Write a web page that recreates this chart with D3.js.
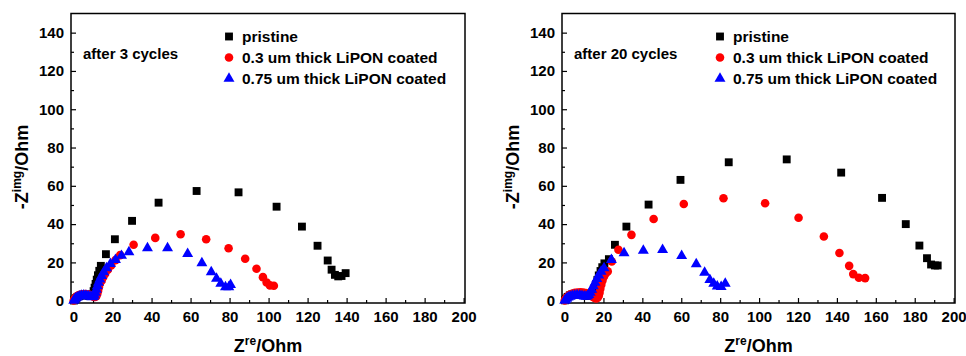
<!DOCTYPE html>
<html>
<head>
<meta charset="utf-8">
<script src="https://cdn.jsdelivr.net/npm/d3@7"></script>
<style>
  body { margin: 0; background: #fff; }
  svg { display: block; font-family: "Liberation Sans", Arial, sans-serif; font-weight: bold; }
</style>
</head>
<body>
<div id="chart"></div>
<script>
// ==== DATA (Z_re, -Z_img in Ohm) ====
const seriesNames = ['pristine', '0.3 um thick LiPON coated', '0.75 um thick LiPON coated']
const panelTitles = ['after 3 cycles', 'after 20 cycles']
const xTicks = [0, 20, 40, 60, 80, 100, 120, 140, 160, 180, 200]
const yTicks = [0, 20, 40, 60, 80, 100, 120, 140]

const pristine3 = [[0.2,0.1],[0.6,0.6],[1.2,1.3],[2,2],[3,2.5],[4.2,2.8],[5.5,2.9],[6.8,2.8],[8,2.5],[9,2.5],[9.8,3.5],[10.3,5],[10.8,6.8],[11.3,8.8],[11.9,11],[12.5,13.3],[13.2,15.6],[14,18.2],[16.6,24.3],[21.2,32.1],[30,41.7],[43.6,51.2],[63.1,57.3],[84.6,56.6],[104.1,49.1],[117.1,38.7],[125.1,28.7],[130.3,21],[132.3,16.2],[134,13.5],[135.7,12.7],[137.4,12.9],[139.5,14.4]]
const coated03_3 = [[0.1,0.1],[0.4,0.8],[0.9,1.5],[1.6,2.2],[2.5,2.8],[3.6,3.2],[4.8,3.4],[6,3.5],[7.2,3.4],[8.3,3.1],[9.3,2.6],[10.2,2.1],[11,1.9],[11.7,2.4],[12.2,3.6],[12.6,5.2],[13,7],[13.5,8.8],[14.4,10.4],[15.2,12.3],[16.2,14.1],[17.6,16.2],[19.3,18.4],[21.5,21.2],[23.9,23.8],[30.8,29.2],[41.9,32.8],[54.9,34.7],[68,32.1],[79.5,27.4],[88,21.9],[93.8,16.7],[97.1,12.3],[99,9.5],[100.7,8],[102.7,7.8]]
const coated075_3 = [[0.1,0],[0.5,0.6],[1.1,1.2],[1.9,1.8],[2.9,2.3],[4,2.7],[5.2,2.8],[6.4,2.7],[7.5,2.4],[8.5,2.1],[9.4,1.9],[10.1,2],[10.7,2.8],[11.2,4.2],[11.7,5.8],[12.2,7.6],[12.8,9.4],[13.5,11.2],[14.4,13],[15.5,15],[16.9,17],[18.9,19.2],[21.5,21.4],[24.6,23.5],[28.4,25.4],[37.9,27.5],[48.2,27.5],[58.5,24.5],[65.8,19.6],[70.6,14.9],[73.3,11.5],[75.5,8.9],[77.9,7.1],[79.6,7.1],[80.5,8.3]]

const pristine20 = [[0.2,0.2],[0.8,1.1],[1.6,2],[2.7,2.8],[4,3.3],[5.5,3.6],[7,3.6],[8.5,3.4],[10,3],[11.4,2.6],[12.7,2.5],[13.8,3],[14.8,4.4],[15.6,6.4],[16.3,8.6],[16.9,10.9],[17.6,13.2],[18.5,15.5],[19.4,17.5],[20.5,19.5],[22.8,21.7],[25.9,29.2],[31.8,38.7],[43.2,50.2],[59.6,63.1],[84.4,72.3],[114.2,73.8],[142.2,66.9],[163.2,53.7],[175.4,40],[182.4,28.8],[186.3,22.2],[188.4,18.9],[190.4,18.4],[191.8,18.4]]
const coated03_20 = [[0.1,0.1],[0.5,0.9],[1.1,1.7],[1.9,2.5],[2.9,3.2],[4.1,3.7],[5.4,4.1],[6.8,4.3],[8.2,4.4],[9.6,4.3],[11,4],[12.3,3.5],[13.5,2.8],[14.6,2],[15.5,1.4],[16.3,1.2],[17,1.5],[17.6,2.6],[18,4.2],[18.4,6.2],[18.9,8.3],[19.5,10.5],[20.3,12.6],[21.2,14.3],[22.2,15.3],[24.3,20.5],[27.7,26.6],[34.4,34.4],[45.8,42.7],[61.3,50.5],[81.7,53.5],[103.1,50.9],[120.3,43.3],[133.3,33.5],[141.3,24.9],[146.3,18.2],[148.4,13.9],[151.3,12],[154.5,11.8]]
const coated075_20 = [[0.1,0],[0.5,0.5],[1.1,1.1],[1.9,1.7],[2.9,2.2],[4,2.6],[5.2,2.8],[6.5,2.9],[7.8,2.8],[9,2.6],[10.1,2.3],[11,2.2],[11.8,2.4],[12.5,3],[13.2,4.3],[14,5.8],[14.8,7.6],[15.7,9.5],[16.6,11.4],[17.6,13.3],[18.8,15.2],[20.3,17],[24.1,21.4],[30.6,24.9],[40.5,26.2],[50.4,26.6],[60.2,23.4],[67.7,19.1],[72,14.7],[74.7,10.9],[76.7,8.9],[78.5,7.5],[80.5,7.3],[82.6,8.9]]

const panels = [
  {title: panelTitles[0], series: [pristine3, coated03_3, coated075_3]},
  {title: panelTitles[1], series: [pristine20, coated03_20, coated075_20]}
]

// ==== STRUCTURE ====
const width = 966, height = 356
const colors = ['#000000', '#ff0000', '#0000ff']
const symbols = [
  d3.symbol().type(d3.symbolSquare).size(62),
  d3.symbol().type(d3.symbolCircle).size(58),
  d3.symbol().type(d3.symbolTriangle).size(52)
]

const svg = d3.select('#chart').append('svg')
  .attr('width', width)
  .attr('height', height)

const frames = [
  {left: 71, right: 465, top: 13.5, bottom: 303},
  {left: 562, right: 955, top: 13.5, bottom: 303}
]

const drawPanel = (panel, f) => {

  const x = d3.scaleLinear().domain([-1.3, 200.7]).range([f.left, f.right])
  const y = d3.scaleLinear().domain([-1.2, 150]).range([f.bottom, f.top])

  const g = svg.append('g')

  // minor ticks
  g.append('g')
  .attr('transform', `translate(0,${f.bottom})`)
  .call(d3.axisBottom(x).tickValues(d3.range(10, 200, 20)).tickSize(-3).tickFormat(''))

  g.append('g')
  .attr('transform', `translate(${f.left},0)`)
  .call(d3.axisLeft(y).tickValues(d3.range(10, 150, 20)).tickSize(-3).tickFormat(''))

  // major ticks
  g.append('g')
  .attr('transform', `translate(0,${f.bottom})`)
  .call(d3.axisBottom(x).tickValues(xTicks).tickSize(-5).tickPadding(8))

  g.append('g')
  .attr('transform', `translate(${f.left},0)`)
  .call(d3.axisLeft(y).tickValues(yTicks).tickSize(-5).tickPadding(7))

  g.selectAll('.domain').remove()
  g.selectAll('.tick line').attr('stroke', '#000').attr('stroke-width', 1.2)
  g.selectAll('.tick text')
  .attr('fill', '#000')
  .style('font-size', '15px')
  .style('font-family', '"Liberation Sans", Arial, sans-serif')
  .style('font-weight', 'bold')

  // frame
  g.append('rect')
  .attr('x', f.left)
  .attr('y', f.top)
  .attr('width', f.right - f.left)
  .attr('height', f.bottom - f.top)
  .attr('fill', 'none')
  .attr('stroke', '#000')
  .attr('stroke-width', 1.5)

  // points
  panel.series.forEach((s, i) => {
    g.append('g')
    .selectAll('path')
    .data(s)
    .enter()
    .append('path')
    .attr('d', symbols[i])
    .attr('fill', colors[i])
    .attr('transform', d => `translate(${x(d[0])},${y(d[1])})`)
  })

  // annotation
  g.append('text')
  .attr('x', f.left + 12)
  .attr('y', f.top + 45)
  .style('font-size', '15px')
  .text(panel.title)

  // legend
  const legend = g.append('g')
  .attr('transform', `translate(${f.left + 158},${f.top + 23})`)

  seriesNames.forEach((name, i) => {
    const row = legend.append('g').attr('transform', `translate(0,${i * 21})`)
    row.append('path')
    .attr('d', symbols[i])
    .attr('fill', colors[i])
    row.append('text')
    .attr('x', 13)
    .attr('dy', '0.36em')
    .style('font-size', '15.5px')
    .text(name)
  })

  // axis titles
  const xt = g.append('text')
  .attr('x', (f.left + f.right) / 2)
  .attr('y', 352)
  .attr('text-anchor', 'middle')
  .style('font-size', '18px')
  xt.append('tspan').text('Z')
  xt.append('tspan').attr('dy', -7).style('font-size', '12px').text('re')
  xt.append('tspan').attr('dy', 7).text('/Ohm')

  const yt = g.append('text')
  .attr('transform', `translate(${f.left - 43},167) rotate(-90)`)
  .attr('text-anchor', 'middle')
  .style('font-size', '18px')
  yt.append('tspan').text('-Z')
  yt.append('tspan').attr('dy', -7).style('font-size', '12px').text('img')
  yt.append('tspan').attr('dy', 7).text('/Ohm')
}

panels.forEach((p, i) => drawPanel(p, frames[i]))
</script>
</body>
</html>
